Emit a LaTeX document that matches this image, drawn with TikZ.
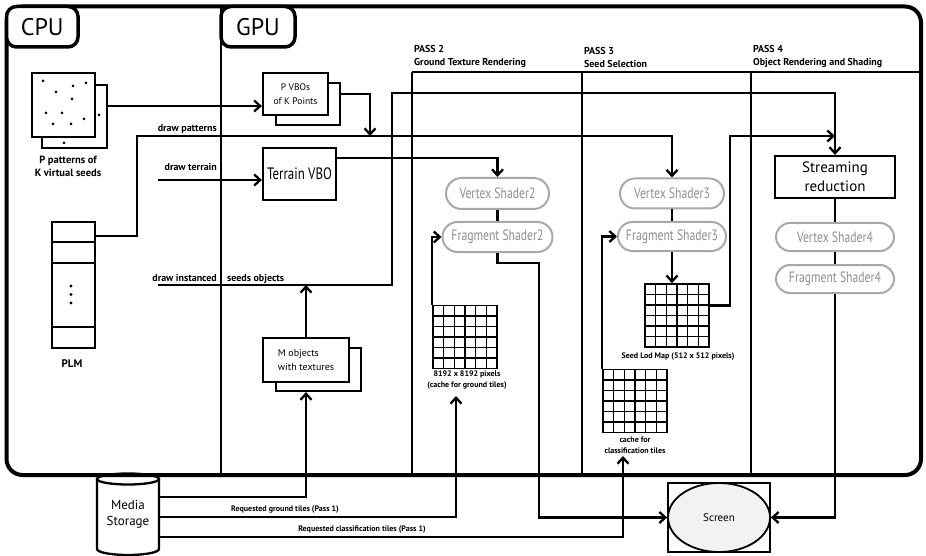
\documentclass[tikz,border=0pt]{standalone}
\usepackage{fontspec}
\setmainfont{PT Sans}
\newfontfamily\condfont[FakeStretch=0.78]{PT Sans}
\usetikzlibrary{arrows.meta,shapes.geometric,shapes.misc,calc}
\definecolor{shadegray}{HTML}{A8A8A8}
\definecolor{shadetext}{HTML}{8E8E8E}
\definecolor{screengray}{HTML}{F2F2F2}
\begin{document}
\begin{tikzpicture}[x=1pt,y=-1pt,line width=2.3pt,
  arr/.style={-{Straight Barb[length=6pt,width=11pt]}},
  box/.style={draw,fill=white,inner sep=0,line width=2.2pt},
  shader/.style={rounded rectangle,draw=shadegray,text=shadetext,fill=white,inner sep=0,line width=2pt,font=\condfont\fontsize{15}{15}\selectfont},
  lbl/.style={inner sep=0,font=\bfseries\fontsize{10}{13}\selectfont},
  tiny/.style={inner sep=0,align=center,font=\bfseries\fontsize{8}{11}\selectfont},
  tab/.style={draw,fill=white,line width=3.5pt,rounded corners=10pt,inner sep=0,font=\fontsize{24}{24}\selectfont},
  divider/.style={line width=2.2pt},
  gridbox/.style={draw,fill=white,line width=1.6pt,minimum width=64pt,minimum height=63pt,inner sep=0,
    path picture={
      \foreach \k in {1,...,5}{
        \draw[line width=1.6pt] ($(path picture bounding box.north west)!\k/6!(path picture bounding box.north east)$) -- ($(path picture bounding box.south west)!\k/6!(path picture bounding box.south east)$);
        \draw[line width=1.6pt] ($(path picture bounding box.north west)!\k/6!(path picture bounding box.south west)$) -- ($(path picture bounding box.north east)!\k/6!(path picture bounding box.south east)$);
      }}}
]
\useasboundingbox (0,0) rectangle (926,556);

% media storage cylinder body
\draw[fill=white] (97,479) -- (97,549) arc[start angle=180,end angle=360,x radius=31pt,y radius=6pt] -- (159,479);
\draw (128,479) ellipse[x radius=31pt,y radius=5.5pt];

% frame and dividers
\draw[line width=4pt,rounded corners=16pt] (6.5,6.5) rectangle (921,475);
\draw[divider] (221,6.5) -- (221,475);
\draw[divider] (412,72) -- (412,475);
\draw[divider] (582,72) -- (582,475);
\draw[divider] (751,72) -- (751,475);
\draw[divider] (412,72) -- (921,72);

\node[tab,minimum width=71.5pt,minimum height=40.5pt] (cpu) at (42.25,26.75) {CPU};
\node[tab,minimum width=74pt,minimum height=40.5pt] (gpu) at (258,26.75) {GPU};

\node[lbl,anchor=south west,align=left] (p2) at (413,69) {PASS 2\\Ground Texture Rendering};
\node[lbl,anchor=south west,align=left] (p3) at (583,69) {PASS 3\\Seed Selection};
\node[lbl,anchor=south west,align=left] (p4) at (752,69) {PASS 4\\Object Rendering and Shading};

% patterns
\node[box,minimum width=65pt,minimum height=63pt] (patback) at (74.5,116.5) {};
\node[box,minimum width=63pt,minimum height=64pt] (patfront) at (63.5,105) {};
\foreach \p in {(43,81),(73,86),(86,83),(56,92),(72,99),(46,113),(62,113),(84,119),(53,124),(71,124),(99,115),(64,143)}
  \fill \p circle[radius=1.5pt];
\node[lbl,align=center,font=\bfseries\fontsize{10.5}{13}\selectfont] (patlbl) at (68,166.5) {P patterns of\\K virtual seeds};

% PLM
\node[box,minimum width=43pt,minimum height=20pt] (plm1) at (73.5,232) {};
\node[box,minimum width=43pt,minimum height=21pt] (plm2) at (73.5,252.5) {};
\node[box,minimum width=43pt,minimum height=64pt] (plm3) at (73.5,295) {};
\node[box,minimum width=43pt,minimum height=21pt] (plm4) at (73.5,337.5) {};
\foreach \yy in {286,294.5,303} \fill (71,\yy) circle[radius=1.6pt];
\node[lbl,font=\bfseries\fontsize{11}{13}\selectfont] (plmlbl) at (72,364) {PLM};

% GPU boxes
\node[box,minimum width=64pt,minimum height=42pt] (pvboback) at (308,104) {};
\node[box,minimum width=65pt,minimum height=42pt,align=center,font=\fontsize{9.5}{14}\selectfont] (pvbofront) at (295.5,94) {P VBOs\\of K Points};
\node[box,minimum width=73pt,minimum height=52pt,font=\condfont\fontsize{16.5}{16}\selectfont] (terrain) at (299.5,174) {Terrain VBO};
\node[box,minimum width=85pt,minimum height=43pt] (mback) at (318.5,369.5) {};
\node[box,minimum width=86pt,minimum height=44pt,align=left,font=\fontsize{10}{14}\selectfont] (mfront) at (306,360) {M objects\\with textures};

\node[lbl,anchor=base east] (lblpat) at (218,132) {draw patterns};
\node[lbl,anchor=base east] (lblter) at (218,171) {draw terrain};
\node[lbl,anchor=base east] (lblins) at (218,281) {draw instanced};
\node[lbl,anchor=base west] (lblseed) at (226,281) {seeds objects};

% shaders
\node[shader,minimum width=103pt,minimum height=31pt] (vs2) at (497.5,193.5) {Vertex Shader2};
\node[shader,minimum width=110pt,minimum height=30pt] (fs2) at (497.5,237) {Fragment Shader2};
\node[shader,minimum width=104pt,minimum height=30pt] (vs3) at (672,193.5) {Vertex Shader3};
\node[shader,minimum width=108pt,minimum height=29pt] (fs3) at (672,236.5) {Fragment Shader3};
\node[box,minimum width=120pt,minimum height=42pt,align=center,font=\fontsize{15}{19}\selectfont] (stream) at (835,177) {Streaming\\reduction};
\node[shader,minimum width=118pt,minimum height=28pt] (vs4) at (835,237) {Vertex Shader4};
\node[shader,minimum width=118pt,minimum height=28pt] (fs4) at (835,279) {Fragment Shader4};

% grids
\node[gridbox] (gg) at (465,337) {};
\node[gridbox] (sg) at (677,315.5) {};
\node[gridbox] (cg) at (635,401) {};
\node[tiny] (gglbl) at (467,380.5) {8192 x 8192 pixels\\(cache for ground tiles)};
\node[tiny] (sglbl) at (678,357) {Seed Lod Map (512 x 512 pixels)};
\node[tiny] (cglbl) at (635,445.5) {cache for\\classification tiles};

% bottom
\node[inner sep=0,minimum width=62pt,minimum height=70pt,align=center,font=\fontsize{13}{16}\selectfont] (media) at (128,514) {Media\\Storage};
\node[draw,line width=1.8pt,minimum width=102pt,minimum height=69pt,inner sep=0] (screenbox) at (719,517.5) {};
\node[ellipse,draw,fill=screengray,line width=1.8pt,minimum width=102pt,minimum height=69pt,inner sep=0,font=\fontsize{11}{11}\selectfont] (screen) at (719,517.5) {Screen};
\node[tiny] (lblg) at (285,510) {Requested ground tiles (Pass 1)};
\node[tiny] (lblc) at (362,530) {Requested classification tiles (Pass 1)};

% helper coordinates
\coordinate (r1) at (0,106);
\coordinate (k1) at (370,136);
\coordinate (dp) at (137,136);
\coordinate (dt) at (158,180);
\coordinate (b1) at (539,263);
\coordinate (m1) at (0,497);
\coordinate (m2) at (0,517);
\coordinate (m3) at (0,537);
\coordinate (ggin) at (456,396);
\coordinate (cgin) at (623,456);
\coordinate (di) at (158,285);
\coordinate (up1) at (392,93);
\coordinate (k2) at (730,136);

% connectors
\draw[arr] (patback.east |- r1) -- (pvbofront.west |- r1);
\draw[arr] (pvboback.east |- pvbofront.center) -| (k1);
\draw[arr] ([yshift=-4pt]plm1.east) -| (dp) -| (vs3.north);
\draw[arr] (dt) -- (terrain.west |- dt);
\draw[arr] ([yshift=16pt]terrain.east) -| (vs2.north);
\draw (vs2.south) -- (fs2.north);
\draw[arr] (fs2.south) |- (b1) |- (screen.west);
\draw[arr] (gg.north west) |- (fs2.west);
\draw[arr] (media.east |- m2) -| (ggin);
\draw[arr] (media.east |- m1) -| (mfront.south |- mback.south);
\draw[arr] (mfront.north) -- (mfront.north |- di);
\draw[arr] (di) -| (up1) -| (stream.north);
\draw (vs3.south) -- (fs3.north);
\draw[arr] (fs3.south) -- (fs3.south |- sg.north);
\draw[arr] ([yshift=10pt]sg.east) -| (k2) -- (stream.north |- k2);
\draw[arr] (cg.north west) |- (fs3.west);
\draw[arr] (media.east |- m3) -| (cgin);
\draw (stream.south) -- (vs4.north);
\draw (vs4.south) -- (fs4.north);
\draw[arr] (fs4.south) |- (screen.east);
\end{tikzpicture}
\end{document}
